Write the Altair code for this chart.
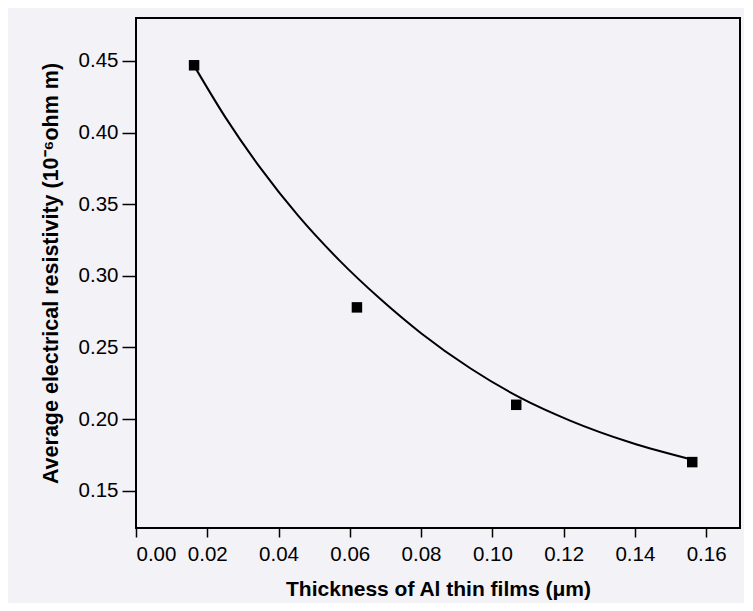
import altair as alt
import pandas as pd

# measured points
thickness = [0.0163, 0.0620, 0.1067, 0.1561]
resistivity = [0.447, 0.278, 0.210, 0.170]

# fitted curve
curve_x = [0.016, 0.025, 0.035, 0.0455, 0.057, 0.0685, 0.080, 0.0938, 0.1078, 0.1218, 0.139, 0.1561]
curve_y = [0.448, 0.411, 0.375, 0.342, 0.311, 0.284, 0.260, 0.2355, 0.2150, 0.1990, 0.1835, 0.1717]

x_ticks = [0.00, 0.02, 0.04, 0.06, 0.08, 0.10, 0.12, 0.14, 0.16]
y_ticks = [0.15, 0.20, 0.25, 0.30, 0.35, 0.40, 0.45]

pts = pd.DataFrame({"x": thickness, "y": resistivity})
fit = pd.DataFrame({"x": curve_x, "y": curve_y})

FONT = "Liberation Sans"

xs = alt.Scale(domain=[0, 0.1695], nice=False, zero=False)
ys = alt.Scale(domain=[0.124, 0.48], nice=False, zero=False)

xax = alt.Axis(values=x_ticks, format=".2f", title="Thickness of Al thin films (μm)",
               grid=False, tickSize=9, tickWidth=1.5, tickColor="black",
               domain=False, labelPadding=7, labelFontSize=20.5, labelFont=FONT,
               labelColor="black", titleFont=FONT, titleFontSize=21,
               titleFontWeight="bold", titleColor="black", titlePadding=14)
yax = alt.Axis(values=y_ticks, format=".2f",
               title="Average electrical resistivity (10⁻⁶ohm m)",
               grid=False, tickSize=14, tickWidth=1.5, tickColor="black",
               domain=False, labelPadding=4, labelFontSize=20.5, labelFont=FONT,
               labelColor="black", titleFont=FONT, titleFontSize=21.5,
               titleFontWeight="bold", titleColor="black", titlePadding=16)

line = alt.Chart(fit).mark_line(color="black", strokeWidth=2, interpolate="monotone").encode(
    x=alt.X("x:Q", scale=xs, axis=xax),
    y=alt.Y("y:Q", scale=ys, axis=yax),
)
points = alt.Chart(pts).mark_square(color="black", size=110, opacity=1).encode(
    x=alt.X("x:Q", scale=xs),
    y=alt.Y("y:Q", scale=ys),
)

chart = (line + points).properties(
    width=604, height=510,
    background="#f3f2f7",
    padding={"left": 128, "top": 10, "right": 4, "bottom": 75},
    autosize=alt.AutoSizeParams(type="none"),
).configure_view(stroke="black", strokeWidth=2)

chart.save("out.html", embed_options={"renderer": "svg", "actions": False})
